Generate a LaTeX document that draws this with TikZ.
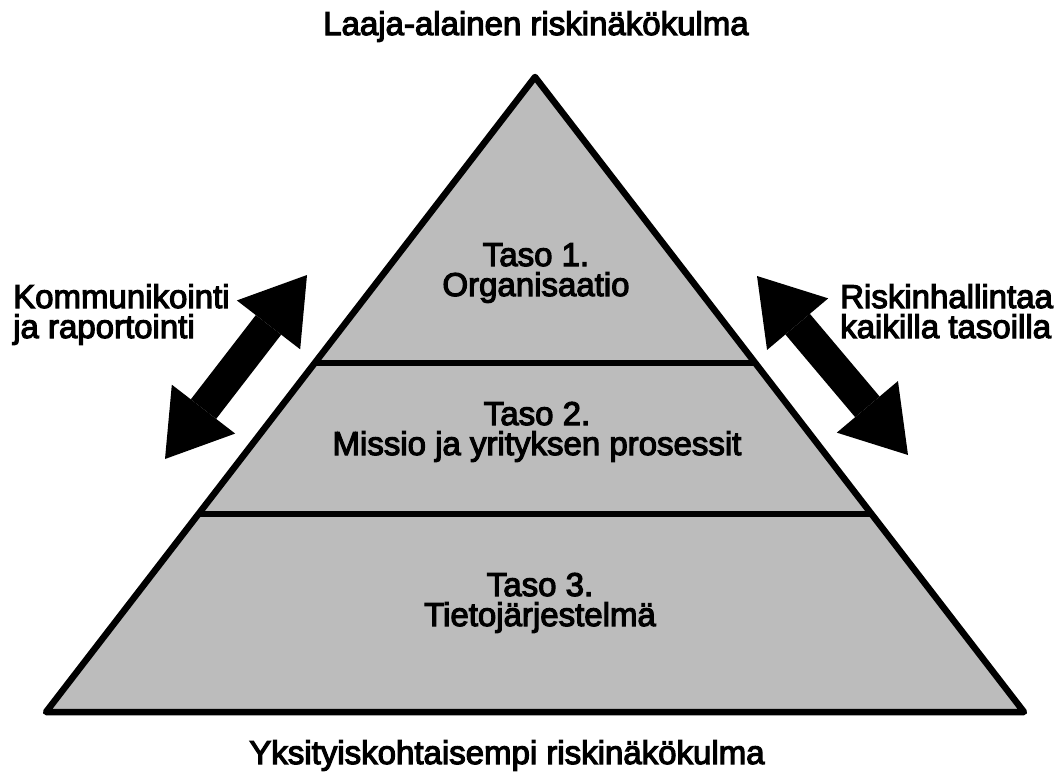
\documentclass[tikz,border=0pt]{standalone}
\usepackage{fontspec}
\setmainfont{Liberation Sans}[FakeBold=3.5]
\usetikzlibrary{arrows.meta,calc}
\definecolor{pyrgray}{RGB}{188,188,188}
\tikzset{
  lbl/.style={font=\fontsize{33}{30}\selectfont, inner sep=0pt, text=black},
  tier/.style={lbl, align=center, anchor=base},
  side/.style={lbl, align=left, anchor=base west},
  bigarrow/.style={line width=32pt, black,
    {Triangle[length=63pt 0 0, width=80pt 0 0, line width=0pt]}-{Triangle[length=63pt 0 0, width=80pt 0 0, line width=0pt]}},
  edge/.style={line width=6.5pt, line join=round, black}
}
\begin{document}
\begin{tikzpicture}[x=1pt,y=-1pt]
\useasboundingbox (0,0) rectangle (1054,771);
% pyramid corners
\coordinate (apex) at (535,77);
\coordinate (bl) at (46,712);
\coordinate (br) at (1024,712);
\coordinate (l1) at ($(apex)!0.4504!(bl)$);
\coordinate (r1) at ($(apex)!0.4504!(br)$);
\coordinate (l2) at ($(apex)!0.6882!(bl)$);
\coordinate (r2) at ($(apex)!0.6882!(br)$);
\fill[pyrgray] (apex) -- (bl) -- (br) -- cycle;
\draw[edge] (l1) -- (r1);
\draw[edge] (l2) -- (r2);
\draw[edge] (apex) -- (bl) -- (br) -- cycle;
% texts (base anchor = baseline of last line)
\node[tier] (top) at (536,35) {Laaja-alainen riskinäkökulma};
\node[tier] (bottom) at (507,764) {Yksityiskohtaisempi riskinäkökulma};
\node[tier] (t1) at (536,296) {Taso 1.\\Organisaatio};
\node[tier] (t2) at (537,455) {Taso 2.\\Missio ja yrityksen prosessit};
\node[tier] (t3) at (540,626) {Taso 3.\\Tietojärjestelmä};
\node[side] (lt) at (13,338) {Kommunikointi\\ja raportointi};
\node[side] (rt) at (840,338) {Riskinhallintaa\\kaikilla tasoilla};
% arrows
\coordinate (la) at (165,459);
\coordinate (lb) at (307,275);
\coordinate (ra) at (757,276);
\coordinate (rb) at (908,455);
\draw[bigarrow] (la) -- (lb);
\draw[bigarrow] (ra) -- (rb);
\end{tikzpicture}
\end{document}
